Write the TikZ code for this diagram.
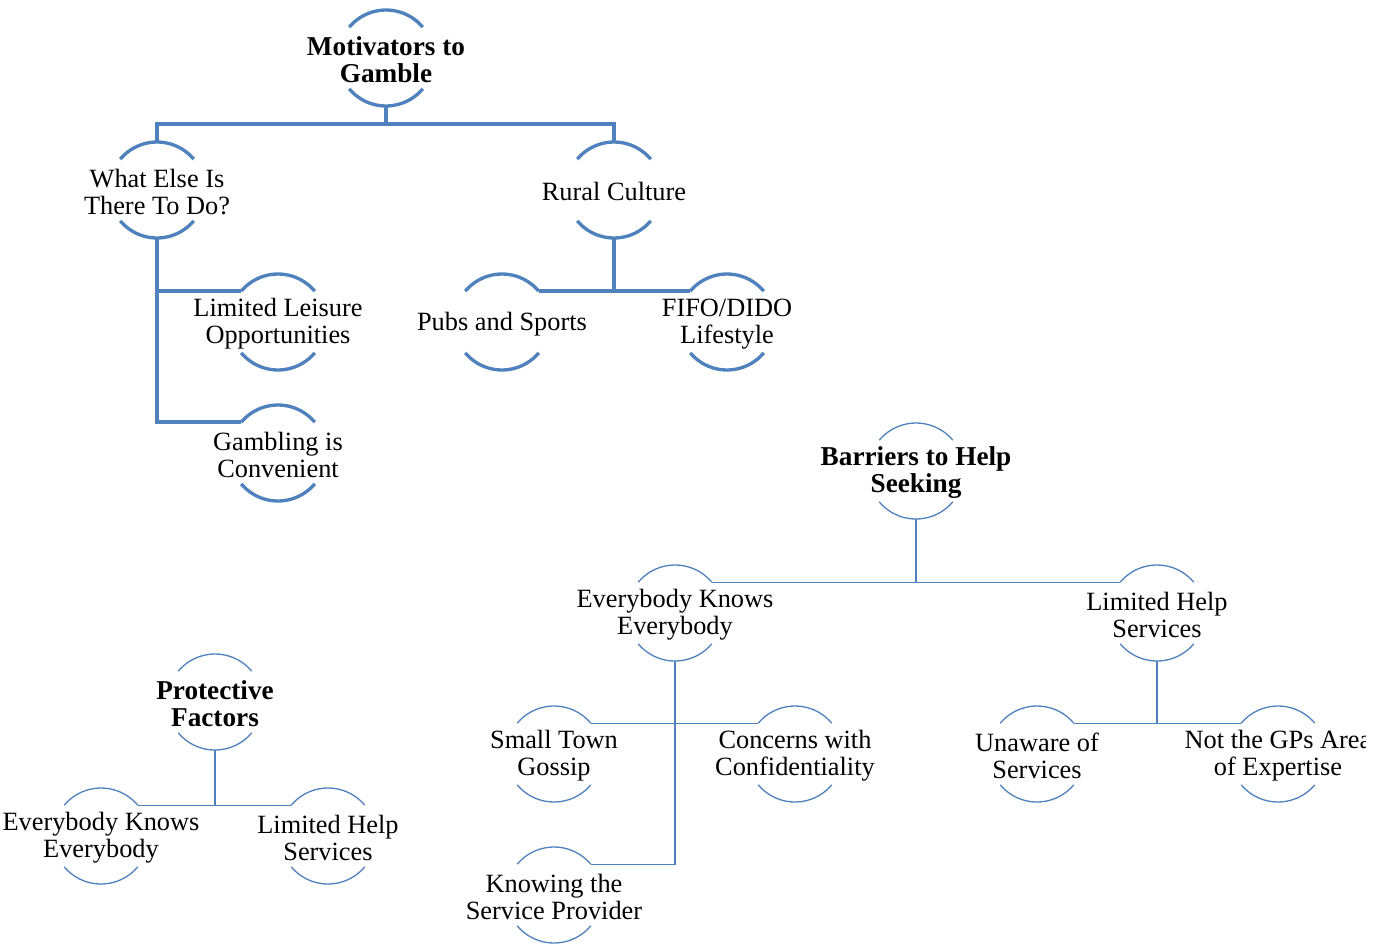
\documentclass[tikz,border=0pt]{standalone}
\usepackage{fontspec}
\setmainfont{Liberation Serif}
\definecolor{barblue}{HTML}{4F81BD}
\tikzset{
  bub/.style={circle,minimum size=1.92cm,inner sep=0pt,outer sep=0pt},
  txt/.style={align=center,yshift=-1pt,font={\fontsize{15}{15.5}\selectfont}},
  hd/.style={align=center,yshift=-1pt,font={\fontsize{15.5}{15.5}\selectfont\bfseries}},
  thk/.style={draw=barblue,line width=1.9pt},
  thn/.style={draw=barblue,line width=0.75pt},
}
\begin{document}
\begin{tikzpicture}[x=0.02cm,y=0.02cm]
\useasboundingbox (0,0) rectangle (1386,-944);
\clip (0,0) rectangle (1365,-944);

% motivators to gamble
\node[bub] (mot) at (386,-58) {};
\node[hd] (motT) at (mot) {Motivators to\\Gamble};
\node[bub] (what) at (157,-190) {};
\node[txt] (whatT) at (what) {What Else Is\\There To Do?};
\node[bub] (rural) at (614,-190) {};
\node[txt] (ruralT) at (rural) {Rural Culture};
\node[bub] (leis) at (278,-322) {};
\node[txt] (leisT) at (leis) {Limited Leisure\\Opportunities};
\node[bub] (gamb) at (278,-453) {};
\node[txt] (gambT) at (gamb) {Gambling is\\Convenient};
\node[bub] (pubs) at (502,-322) {};
\node[txt] (pubsT) at (pubs) {Pubs and Sports};
\node[bub] (fifo) at (727,-322) {};
\node[txt] (fifoT) at (fifo) {FIFO/DIDO\\Lifestyle};

\foreach \n in {mot,what,rural,leis,gamb,pubs,fifo}
  \draw[thk] (\n.40) arc[start angle=40,end angle=140,radius=0.96cm]
             (\n.220) arc[start angle=220,end angle=320,radius=0.96cm];

\coordinate (motbar) at (386,-124);
\draw[thk] (mot.south) -- (motbar);
\draw[thk] (what.north) |- (motbar) -| (rural.north);
\draw[thk] (what.south) |- (gamb.140);
\draw[thk] (what.south |- leis.140) -- (leis.140);
\draw[thk] (rural.south) -- (rural.south |- pubs.40);
\draw[thk] (pubs.40) -- (fifo.140);

% barriers to help seeking
\node[bub] (bar) at (916,-471) {};
\node[hd] (barT) at (bar) {Barriers to Help\\Seeking};
\node[bub] (ekn) at (675,-613) {};
\node[txt] (eknT) at (ekn) {Everybody Knows\\Everybody};
\node[bub] (lhs) at (1157,-613) {};
\node[txt] (lhsT) at (lhs) {Limited Help\\Services};
\node[bub] (small) at (554,-754) {};
\node[txt] (smallT) at (small) {Small Town\\Gossip};
\node[bub] (conc) at (795,-754) {};
\node[txt] (concT) at (conc) {Concerns with\\Confidentiality};
\node[bub] (know) at (554,-895) {};
\node[txt] (knowT) at (know) {Knowing the\\Service Provider};
\node[bub] (unaw) at (1037,-754) {};
\node[txt] (unawT) at (unaw) {Unaware of\\Services};
\node[bub] (ngp) at (1278,-754) {};
\node[txt] (ngpT) at (ngp) {Not the GPs Area\\of Expertise};

% protective factors
\node[bub] (prot) at (215,-702) {};
\node[hd] (protT) at (prot) {Protective\\Factors};
\node[bub] (ekn2) at (101,-836) {};
\node[txt] (ekn2T) at (ekn2) {Everybody Knows\\Everybody};
\node[bub] (lhs2) at (328,-836) {};
\node[txt] (lhs2T) at (lhs2) {Limited Help\\Services};

\foreach \n in {bar,ekn,lhs,small,conc,know,unaw,ngp,prot,ekn2,lhs2}
  \draw[thn] (\n.40) arc[start angle=40,end angle=140,radius=0.96cm]
             (\n.220) arc[start angle=220,end angle=320,radius=0.96cm];

\draw[thn] (bar.south) -- (bar.south |- ekn.40);
\draw[thn] (ekn.40) -- (lhs.140);
\draw[thn] (ekn.south) |- (know.40);
\draw[thn] (small.40) -- (conc.140);
\draw[thn] (lhs.south) -- (lhs.south |- unaw.40);
\draw[thn] (unaw.40) -- (ngp.140);
\draw[thn] (prot.south) -- (prot.south |- ekn2.40);
\draw[thn] (ekn2.40) -- (lhs2.140);
\end{tikzpicture}
\end{document}
